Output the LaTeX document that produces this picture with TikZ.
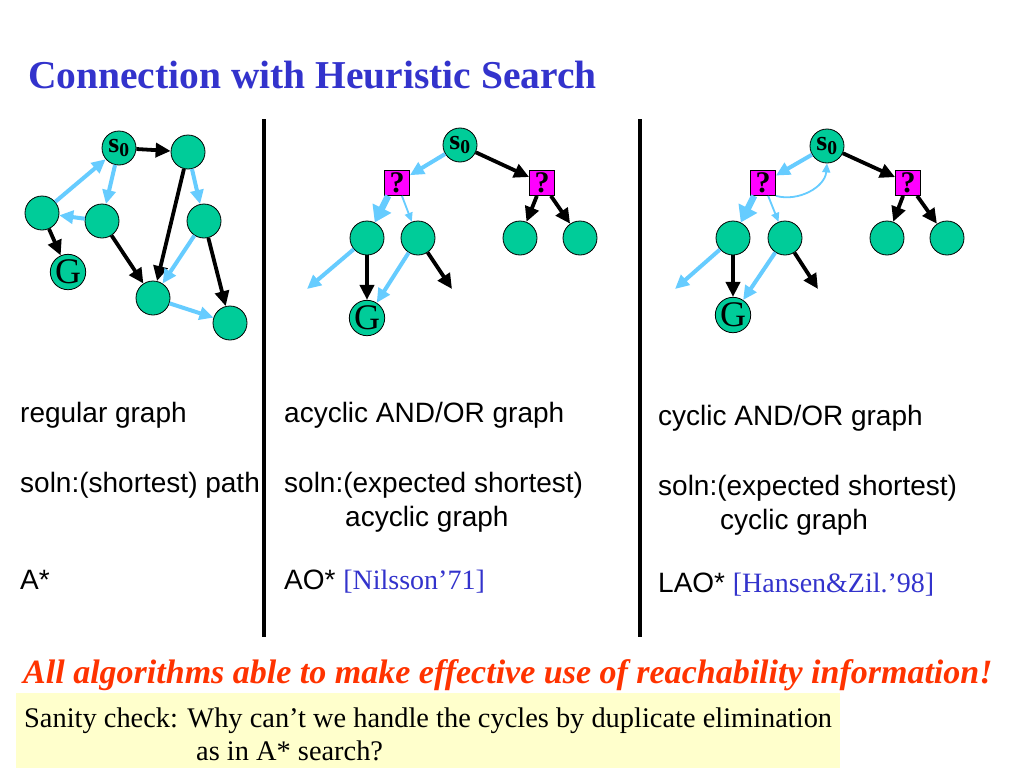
\documentclass[tikz,border=0pt]{standalone}
\usepackage{fontspec}
\setmainfont{Liberation Serif}
\setsansfont{Liberation Sans}
\usetikzlibrary{arrows.meta}
\definecolor{nodeg}{HTML}{00CC99}
\definecolor{lblue}{HTML}{66CCFF}
\definecolor{mag}{HTML}{FF00FF}
\definecolor{ttl}{HTML}{3333CC}
\definecolor{redo}{HTML}{FF3300}
\definecolor{yel}{HTML}{FFFFCC}
\begin{document}
\begin{tikzpicture}[x=1pt,y=-1pt,
  st/.style={circle,draw=black,line width=0.8pt,fill=nodeg,minimum size=34pt,inner sep=0pt},
  sz/.style={font=\fontsize{28}{28}\selectfont\bfseries},
  gz/.style={font=\fontsize{36}{36}\selectfont},
  qb/.style={rectangle,draw=black,line width=0.8pt,fill=mag,minimum size=25pt,inner sep=0pt,font=\fontsize{30}{30}\selectfont\bfseries},
  blk/.style={draw=black,line width=3.8pt,-{Triangle[length=15pt,width=14pt]}},
  blu/.style={draw=lblue,line width=4pt,-{Triangle[length=14pt,width=13pt]}},
  bluthick/.style={draw=lblue,line width=6.5pt,-{Triangle[length=16pt,width=20pt]}},
  bluthin/.style={draw=lblue,line width=1.8pt,-{Triangle[length=9pt,width=8pt]}},
  lab/.style={anchor=base west,inner sep=0pt,font=\sffamily\fontsize{28}{28}\selectfont},
  sep/.style={draw=black,line width=4pt},
]
\useasboundingbox[fill=white] (0,0) rectangle (1024,768);

% title
\node[anchor=base west,inner sep=0pt,text=ttl,font=\bfseries\fontsize{39.5}{40}\selectfont] (title) at (28,88) {Connection with Heuristic Search};

% separators
\coordinate (v1t) at (264,119); \coordinate (v1b) at (264,637);
\coordinate (v2t) at (640,119); \coordinate (v2b) at (640,637);
\draw[sep] (v1t) -- (v1b);
\draw[sep] (v2t) -- (v2b);

% ---------- left graph
\node[st,sz] (ls) at (119,148) {s\textsubscript{0}};
\node[st] (l1) at (188,152) {};
\node[st] (l2) at (42,213) {};
\node[st] (l3) at (102,221) {};
\node[st] (l4) at (204,221) {};
\node[st,gz] (lg) at (68,272) {G};
\node[st] (l5) at (153,298) {};
\node[st] (l6) at (230,323) {};
\draw[blk] (ls) -- (l1);
\draw[blu] (l2) -- (ls);
\draw[blu] (ls) -- (l3);
\draw[blu] (l3) -- (l2);
\draw[blk] (l2) -- (lg);
\draw[blk] (l3) -- (l5);
\draw[blk] (l1) -- (l5);
\draw[blu] (l1) -- (l4);
\draw[blu] (l4) -- (l5);
\draw[blk] (l4) -- (l6);
\draw[blu] (l5) -- (l6);

% ---------- middle graph
\node[st,sz] (ms) at (460,145) {s\textsubscript{0}};
\node[qb] (mq1) at (397,183) {?};
\node[qb] (mq2) at (542,183) {?};
\node[st] (ma) at (367,238) {};
\node[st] (mb) at (418,238) {};
\node[st] (mc) at (520,238) {};
\node[st] (md) at (580,238) {};
\node[st,gz] (mg) at (367,318) {G};
\coordinate (mfa) at (307,289);
\coordinate (mfb) at (452,289);
\draw[blu] (ms) -- (mq1);
\draw[blk] (ms) -- (mq2);
\draw[bluthick] (mq1.south west) ++(4,0) -- (ma);
\draw[bluthin] (mq1) -- (mb);
\draw[blk] (mq2) -- (mc);
\draw[blk] (mq2) -- (md);
\draw[blk] (ma) -- (mg);
\draw[blu] (mb) -- (mg);
\draw[blu] (ma) -- (mfa);
\draw[blk] (mb) -- (mfb);

% ---------- right graph
\node[st,sz] (rs) at (827,146) {s\textsubscript{0}};
\node[qb] (rq1) at (763,183) {?};
\node[qb] (rq2) at (908,183) {?};
\node[st] (ra) at (733,238) {};
\node[st] (rb) at (785,238) {};
\node[st] (rc) at (887,238) {};
\node[st] (rd) at (947,238) {};
\node[st,gz] (rg) at (733,315) {G};
\coordinate (rfa) at (675,289);
\coordinate (rfb) at (818,289);
\draw[blu] (rs) -- (rq1);
\draw[blk] (rs) -- (rq2);
\draw[bluthick] (rq1.south west) ++(4,0) -- (ra);
\draw[bluthin] (rq1) -- (rb);
\draw[bluthin] (rq1.south east) to[out=-15,in=-95] (rs.south);
\draw[blk] (rq2) -- (rc);
\draw[blk] (rq2) -- (rd);
\draw[blk] (ra) -- (rg);
\draw[blu] (rb) -- (rg);
\draw[blu] (ra) -- (rfa);
\draw[blk] (rb) -- (rfb);

% ---------- labels
\node[lab] (t1) at (20,422) {regular graph};
\node[lab] (t2) at (20,492) {soln:(shortest) path};
\node[lab] (t3) at (20,589) {A*};

\node[lab] (m1) at (284,422) {acyclic AND/OR graph};
\node[lab] (m2) at (284,492) {soln:(expected shortest)};
\node[lab] (m3) at (345,526) {acyclic graph};
\node[lab] (m4) at (284,589) {AO* \textcolor{ttl}{\rmfamily\fontsize{28}{28}\selectfont [Nilsson’71]}};

\node[lab] (r1) at (658,425) {cyclic AND/OR graph};
\node[lab] (r2) at (658,495) {soln:(expected shortest)};
\node[lab] (r3) at (720,529) {cyclic graph};
\node[lab] (r4) at (658,592) {LAO* \textcolor{ttl}{\rmfamily\fontsize{28}{28}\selectfont [Hansen\&Zil.’98]}};

% ---------- bottom
\node[anchor=base west,inner sep=0pt,text=redo,font=\bfseries\itshape\fontsize{34}{34}\selectfont] (red) at (23,683) {All algorithms able to make effective use of reachability information!};
\fill[yel] (16,693) rectangle (840,768);
\node[anchor=base west,inner sep=0pt,font=\fontsize{28.4}{28}\selectfont] (san1) at (24,727) {Sanity check: Why can’t we handle the cycles by duplicate elimination};
\node[anchor=base west,inner sep=0pt,font=\fontsize{28.4}{28}\selectfont] (san2) at (196,760) {as in A* search?};
\end{tikzpicture}
\end{document}
